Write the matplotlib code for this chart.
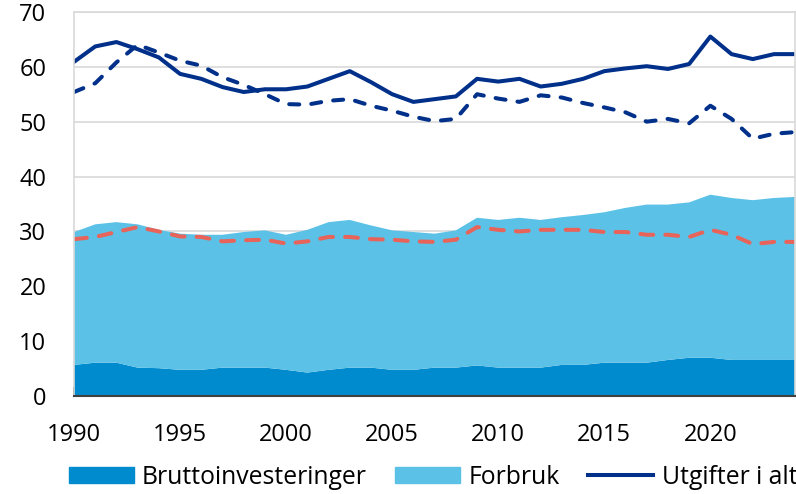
import numpy as np
import matplotlib.pyplot as plt
from matplotlib.patches import Patch
from matplotlib.lines import Line2D

plt.rcParams['font.family'] = ['Open Sans', 'DejaVu Sans']

years = np.arange(1990, 2025)

bruttoinvesteringer = [
    5.7, 6.1, 6.1, 5.2, 5.1, 4.8, 4.8, 5.2, 5.2, 5.2,
    4.8, 4.3, 4.8, 5.2, 5.2, 4.8, 4.8, 5.2, 5.2, 5.6,
    5.2, 5.2, 5.2, 5.7, 5.7, 6.1, 6.1, 6.1, 6.6, 7.0,
    7.0, 6.6, 6.6, 6.6, 6.6,
]
forbruk = [
    24.2, 25.2, 25.6, 26.1, 25.2, 24.8, 24.6, 24.2, 24.7, 25.0,
    24.6, 26.0, 26.9, 26.9, 25.9, 25.4, 25.1, 24.4, 25.0, 26.9,
    26.9, 27.3, 26.9, 26.9, 27.3, 27.4, 28.2, 28.8, 28.3, 28.3,
    29.7, 29.5, 29.1, 29.5, 29.7,
]
utgifter_i_alt = [
    60.9, 63.7, 64.5, 63.2, 61.7, 58.7, 57.8, 56.3, 55.4, 55.9,
    55.9, 56.4, 57.8, 59.2, 57.2, 55.0, 53.6, 54.1, 54.6, 57.8,
    57.3, 57.8, 56.4, 56.9, 57.8, 59.2, 59.7, 60.1, 59.6, 60.5,
    65.5, 62.3, 61.4, 62.3, 62.3,
]
utgifter_stiplet = [
    55.4, 57.0, 60.8, 64.0, 62.6, 61.1, 60.2, 58.1, 56.7, 55.0,
    53.2, 53.1, 53.8, 54.1, 52.9, 52.0, 50.9, 50.1, 50.5, 55.0,
    54.2, 53.6, 54.8, 54.4, 53.4, 52.6, 51.7, 50.0, 50.5, 49.7,
    52.9, 50.5, 46.9, 47.8, 48.1,
]
forbruk_stiplet = [
    28.6, 29.0, 29.9, 30.8, 30.0, 29.1, 29.0, 28.2, 28.4, 28.5,
    27.8, 28.2, 29.0, 29.0, 28.6, 28.5, 28.2, 28.1, 28.5, 30.8,
    30.3, 30.0, 30.3, 30.3, 30.3, 29.9, 29.9, 29.4, 29.4, 29.0,
    30.3, 29.4, 27.7, 28.1, 28.1,
]

c_brutto = '#008BCE'
c_forbruk = '#5BC1E6'
c_navy = '#00308A'
c_red = '#E8645A'
fs = 17

fig = plt.figure(figsize=(7.96, 4.94), dpi=100)
ax = fig.add_axes([0.093, 0.198, 0.906, 0.778])

# stacked areas: investment at the bottom, consumption on top
ax.stackplot(years, bruttoinvesteringer, forbruk,
             colors=[c_brutto, c_forbruk], linewidth=0)
ax.plot(years, utgifter_i_alt, color=c_navy, lw=2.9, solid_joinstyle='round')
ax.plot(years, utgifter_stiplet, color=c_navy, lw=2.9,
        dashes=(2.5, 3), dash_capstyle='round')
ax.plot(years, forbruk_stiplet, color=c_red, lw=2.9,
        dashes=(3.2, 3), dash_capstyle='round')

ax.set_xlim(1990, 2024)
ax.set_ylim(0, 70)
ax.set_yticks(range(0, 71, 10))
ax.set_xticks(range(1990, 2021, 5))
ax.set_axisbelow(True)
ax.grid(axis='y', color='#D9D9D9', lw=1.2)

for side in ('left', 'top', 'right'):
    ax.spines[side].set_color('#D9D9D9')
    ax.spines[side].set_linewidth(1.2)
ax.spines['bottom'].set_color('#404040')
ax.spines['bottom'].set_linewidth(1.5)

ax.tick_params(axis='x', direction='in', length=6.5, width=1.2,
               color='#202020', labelsize=fs, pad=19)
ax.tick_params(axis='y', length=0, labelsize=fs, pad=20)

handles = [
    Patch(color=c_brutto, label='Bruttoinvesteringer'),
    Patch(color=c_forbruk, label='Forbruk'),
    Line2D([], [], color=c_navy, lw=2.9, label='Utgifter i alt'),
]
fig.legend(handles=handles, loc='center', bbox_to_anchor=(433 / 796, 0.034),
           ncol=3, frameon=False, fontsize=17.8, handlelength=2.63,
           handleheight=0.6, handletextpad=0.33, columnspacing=1.15,
           borderpad=0, borderaxespad=0)

plt.savefig('out.png', dpi=100)
